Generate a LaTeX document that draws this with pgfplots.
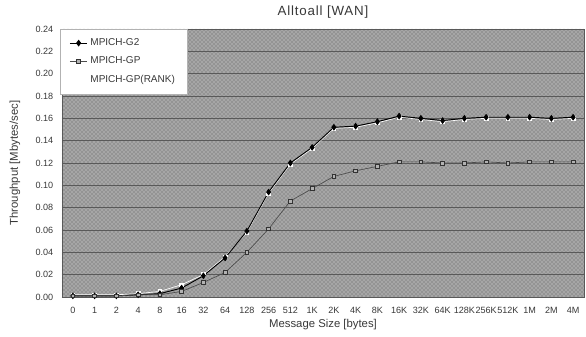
\documentclass[border=0pt]{standalone}
\usepackage{pgfplots}
\pgfplotsset{compat=1.18}
\usepackage{fontspec}
\setmainfont{Liberation Sans}
\newfontfamily\ttl[LetterSpace=6]{Liberation Sans}
\usetikzlibrary{patterns}
\definecolor{txt}{gray}{0.22}
\begin{document}
\begin{tikzpicture}
\useasboundingbox (-46.5pt,-29.25pt) rectangle (393pt,222.75pt);
\begin{axis}[
  at={(0,0)}, anchor=south west,
  scale only axis, width=391.5pt, height=201pt,
  xmin=-0.5, xmax=23.5, ymin=0, ymax=0.24,
  xtick={0,...,23},
  xticklabels={0,1,2,4,8,16,32,64,128,256,512,1K,2K,4K,8K,16K,32K,64K,128K,256K,512K,1M,2M,4M},
  ytick={0,0.02,...,0.241},
  yticklabel style={/pgf/number format/fixed, /pgf/number format/fixed zerofill, /pgf/number format/precision=2, xshift=-3pt},
  /pgf/number format/assume math mode=true,
  tick label style={font=\fontsize{6.8}{8}\selectfont, color=txt},
  xticklabel style={yshift=-4pt},
  major tick length=0pt,
  axis line style={gray!70!black},
  axis background/.style={fill=black!42, postaction={pattern=crosshatch dots, pattern color=white!80!gray}},
  ymajorgrids, grid style={black!65, line width=0.4pt},
  title={\ttl Alltoall [WAN]},
  title style={font=\fontsize{10}{11}\selectfont, color=txt, at={(axis description cs:0.5,1)}, anchor=center, yshift=7pt},
  xlabel={Message Size [bytes]},
  xlabel style={font=\fontsize{8.5}{9}\selectfont, color=txt, at={(axis description cs:0.5,0)}, anchor=center, yshift=-21pt},
  ylabel={Throughput [Mbytes/sec]},
  every axis y label/.style={font=\fontsize{8.5}{9}\selectfont, color=txt, at={(axis description cs:-0.09,0.5)}, anchor=center, rotate=90},
  legend style={at={(axis description cs:-0.004,1)}, anchor=north west, draw=gray!60, fill=white,
    font=\fontsize{7.5}{8.5}\selectfont, text=txt, row sep=3pt, inner xsep=7pt, inner ysep=5pt},
  legend cell align=left,
  legend image code/.code={\draw[#1] (0pt,0pt) -- (6.5pt,0pt) plot coordinates {(6.5pt,0pt)} -- (13pt,0pt);},
]
\addplot[white, line width=0.5pt, mark=square*, mark size=1.4pt, mark options={fill=white, draw=white}, forget plot] coordinates {
(0,0.002) (1,0.002) (2,0.002) (3,0.003) (4,0.005) (5,0.011) (6,0.020) (7,0.036) (8,0.058) (9,0.093) (10,0.119) (11,0.133)
(12,0.151) (13,0.152) (14,0.156) (15,0.161) (16,0.159) (17,0.157) (18,0.159) (19,0.160) (20,0.160) (21,0.160) (22,0.159) (23,0.160)};
\addplot[black, line width=0.7pt, mark=diamond*, mark size=2pt, mark options={fill=black}] coordinates {
(0,0.001) (1,0.001) (2,0.001) (3,0.002) (4,0.003) (5,0.008) (6,0.019) (7,0.035) (8,0.059) (9,0.094) (10,0.120) (11,0.134)
(12,0.152) (13,0.153) (14,0.157) (15,0.162) (16,0.160) (17,0.158) (18,0.160) (19,0.161) (20,0.161) (21,0.161) (22,0.160) (23,0.161)};
\addlegendentry{MPICH-G2}
\addplot[black!70, line width=0.5pt, mark=square*, mark size=1.4pt, mark options={fill=gray!60, draw=black!80}] coordinates {
(0,0.001) (1,0.001) (2,0.001) (3,0.002) (4,0.002) (5,0.005) (6,0.013) (7,0.022) (8,0.040) (9,0.061) (10,0.086) (11,0.097)
(12,0.108) (13,0.113) (14,0.117) (15,0.121) (16,0.121) (17,0.120) (18,0.120) (19,0.121) (20,0.120) (21,0.121) (22,0.121) (23,0.121)};
\addlegendentry{MPICH-GP}
\addlegendimage{white, line width=0.5pt, mark=square*, mark size=1.4pt, mark options={fill=white, draw=white}}
\addlegendentry{MPICH-GP(RANK)}
\end{axis}
\end{tikzpicture}
\end{document}
